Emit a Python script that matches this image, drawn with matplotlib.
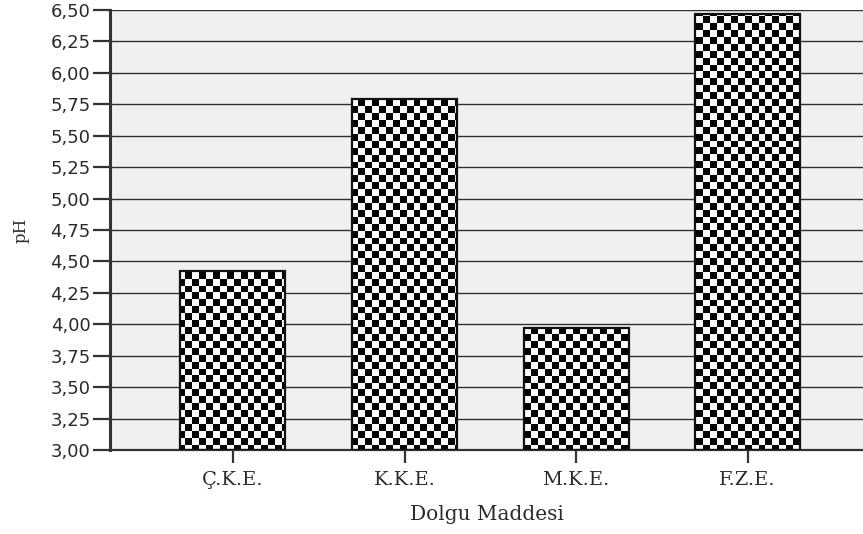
import numpy as np
import matplotlib
matplotlib.use("Agg")
import matplotlib.pyplot as plt

# Mean pH by filler material
categories = ["Ç.K.E.", "K.K.E.", "M.K.E.", "F.Z.E."]
ph_values = [4.42, 5.79, 3.97, 6.47]
y_ticks = [3.00, 3.25, 3.50, 3.75, 4.00, 4.25, 4.50, 4.75, 5.00,
           5.25, 5.50, 5.75, 6.00, 6.25, 6.50]
x_label = "Dolgu Maddesi"
y_label = "pH"

W, H, DPI = 863, 534, 100
fig = plt.figure(figsize=(W / DPI, H / DPI), dpi=DPI)
ax_left, ax_right, ax_top, ax_bottom = 110, 863, 10, 450
ax = fig.add_axes([ax_left / W, (H - ax_bottom) / H,
                   (ax_right - ax_left) / W, (ax_bottom - ax_top) / H])
ax.set_facecolor("#f0f0f0")

x = np.arange(len(categories))
xlim = (-0.717, 3.673)
ylim = (3.0, 6.5)

# horizontal grid behind the bars
ax.set_axisbelow(True)
ax.yaxis.grid(True, color="#303030", linewidth=1.0)
ax.xaxis.grid(False)

bar_width = 0.612
bars = ax.bar(x, [v - ylim[0] for v in ph_values], bottom=ylim[0],
              width=bar_width, color="white", edgecolor="none", zorder=2)

# checkerboard fill, clipped to each bar
cell = 6.9  # pixels per square
ax_w, ax_h = ax_right - ax_left, ax_bottom - ax_top
nx = int(np.ceil(ax_w / cell))
ny = int(np.ceil(ax_h / cell))
checker = ((np.indices((ny, nx)).sum(axis=0) + 1) % 2).astype(float)
for b in bars:
    im = ax.imshow(checker, cmap="gray", vmin=0, vmax=1,
                   extent=(0, nx * cell / ax_w, 1 - ny * cell / ax_h, 1),
                   transform=ax.transAxes, interpolation="nearest",
                   aspect="auto", zorder=2.5)
    im.set_clip_path(b)

ax.bar(x, [v - ylim[0] for v in ph_values], bottom=ylim[0],
       width=bar_width, facecolor="none", edgecolor="#111111",
       linewidth=1.6, zorder=3)

ax.set_xlim(*xlim)
ax.set_ylim(*ylim)

ax.set_yticks(y_ticks)
ax.set_yticklabels([f"{t:.2f}".replace(".", ",") for t in y_ticks],
                   fontsize=13, family="DejaVu Sans", color="#2a2a2a")
ax.set_xticks(x)
ax.set_xticklabels(categories, fontsize=14, family="DejaVu Serif",
                   color="#2a2a2a")
ax.tick_params(axis="y", length=12, width=1.6, color="#333333", pad=2)
ax.tick_params(axis="x", length=9, width=1.6, color="#333333", pad=6)

for side in ("top", "right"):
    ax.spines[side].set_visible(False)
ax.spines["left"].set_linewidth(2.2)
ax.spines["left"].set_color("#333333")
ax.spines["bottom"].set_linewidth(1.6)
ax.spines["bottom"].set_color("#333333")

ax.set_xlabel(x_label, fontsize=14.5, family="DejaVu Serif",
              color="#2a2a2a", labelpad=12)
ax.set_ylabel(y_label, fontsize=12, family="DejaVu Serif",
              color="#2a2a2a", labelpad=15)

fig.savefig("out.png", dpi=DPI)
